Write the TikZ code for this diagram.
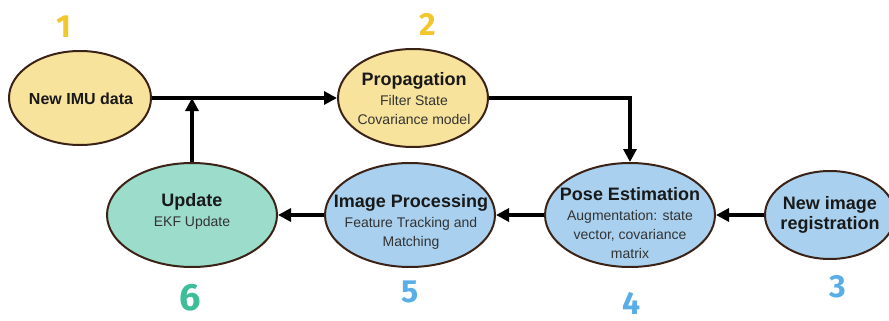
\documentclass[tikz,border=0pt]{standalone}
\usepackage{fontspec}
\setmainfont{Liberation Sans}
\newfontfamily\numfont{Fira Sans}
\usetikzlibrary{shapes.geometric,arrows.meta}
\definecolor{yel}{HTML}{F7E39C}
\definecolor{blu}{HTML}{A9D1EF}
\definecolor{tea}{HTML}{9BDCCB}
\definecolor{brd}{HTML}{3B2216}
\definecolor{nyel}{HTML}{F2C72E}
\definecolor{nblu}{HTML}{5AAEE8}
\definecolor{ntea}{HTML}{3DBE98}
\definecolor{sub}{HTML}{333333}
\newcommand\subtx{\mdseries\fontsize{14}{18.5}\selectfont\color{sub}}
\tikzset{
  bub/.style={ellipse, draw=brd, line width=2pt, inner sep=0pt},
  ttl/.style={align=center, inner sep=0pt, font=\bfseries\fontsize{18}{19}\selectfont, text=black!90},
  conn/.style={line width=3.2pt, -{Triangle[length=13pt,width=13pt]}},
  num/.style={font=\numfont\bfseries\fontsize{32}{32}\selectfont, inner sep=0pt},
}
\begin{document}
\begin{tikzpicture}[x=1pt,y=-1pt]
\useasboundingbox (0,0) rectangle (889,321);
% ellipses
\node[bub, fill=yel, minimum width=142pt, minimum height=94pt] (e1) at (80,98) {};
\node[bub, fill=yel, minimum width=150pt, minimum height=98pt] (e2) at (413,98) {};
\node[bub, fill=blu, minimum width=130pt, minimum height=88pt] (e3) at (830,215) {};
\node[bub, fill=blu, minimum width=170pt, minimum height=104pt] (e4) at (630,215) {};
\node[bub, fill=blu, minimum width=170pt, minimum height=104pt] (e5) at (410,215) {};
\node[bub, fill=tea, minimum width=170pt, minimum height=104pt] (e6) at (192,215) {};
% texts
\node[ttl, font=\bfseries\fontsize{16}{17}\selectfont] (t1) at (81,99) {New IMU data};
\node[ttl] (t2) at (414,99) {Propagation\\[1pt]{\subtx Filter State}\\{\subtx Covariance model}};
\node[ttl, font=\bfseries\fontsize{18}{20}\selectfont] (t3) at (830,215) {New image\\registration};
\node[ttl] (t4) at (630,223) {Pose Estimation\\[1pt]{\subtx Augmentation: state}\\{\subtx vector, covariance}\\{\subtx matrix}};
\node[ttl] (t5) at (411,222) {Image Processing\\[1pt]{\subtx Feature Tracking and}\\{\subtx Matching}};
\node[ttl] (t6) at (192,211) {Update\\[1pt]{\subtx EKF Update}};
% numbers
\node[num, text=nyel] (n1) at (64,27) {1};
\node[num, text=nyel] (n2) at (428,24) {2};
\node[num, text=nblu] (n3) at (838,287) {3};
\node[num, text=nblu] (n4) at (632,303) {4};
\node[num, text=nblu] (n5) at (410,292) {5};
\node[num, text=ntea, font=\numfont\bfseries\fontsize{38}{38}\selectfont] (n6) at (190,298) {6};
% connectors
\draw[conn] (e1.east) -- (e2.west);
\draw[conn] (e6.north) -- (e6.north |- e1.east);
\draw[conn] (e2.east) -| (e4.north);
\draw[conn] (e3.west) -- (e4.east);
\draw[conn] (e4.west) -- (e5.east);
\draw[conn] (e5.west) -- (e6.east);
\end{tikzpicture}
\end{document}
